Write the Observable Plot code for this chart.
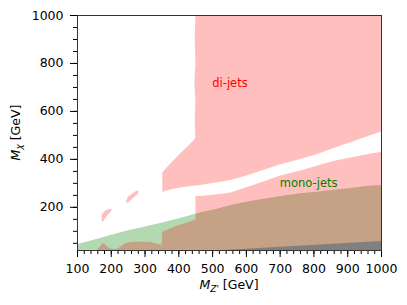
<!DOCTYPE html>
<html><head><meta charset="utf-8">
<script src="https://cdn.jsdelivr.net/npm/d3@7"></script>
<script src="https://cdn.jsdelivr.net/npm/@observablehq/plot@0.6"></script>
<style>html,body{margin:0;padding:0;background:#fff;} svg{display:block}</style>
</head><body><div id="chart"></div>
<script>
// ---- data (M_Z' [GeV], M_chi [GeV]) ----
const xTicks = [100, 200, 300, 400, 500, 600, 700, 800, 900, 1000];
const yTicks = [200, 400, 600, 800, 1000];
const xMinor = d3.range(100, 1001, 20);
const yMinor = d3.range(50, 1001, 50);

// mono-jets excluded region
const monoJets = [[100,20],[100,47],[150,66],[200,86],[250,104],[300,120],[350,137],[400,155],[449,173],
  [464,179],[500,190],[563,213],[610,226],[661,238],[710,249],[760,259],[810,266],[858,273],[910,281],[957,290],[1000,293],[1000,20]];

// di-jets excluded region: upper part
const diJetsUpper = [[449,1000],[1000,1000],[1000,516],[960,497],[910,472],[860,448],[810,422],[760,402],[700,380],
  [650,356],[600,333],[553,314],[500,302],[452,291],[440,290],[420,286],[400,282],[380,276],[360,268],[351,264],
  [351,345],[365,368],[380,390],[405,427],[430,460],[445,482],[449,492],[447,560],[449,640],[446,720],[449,800],[447,900]];

// di-jets excluded region: lower part
const diJetsLower = [[156,20],[165,35],[172,48],[177,51],[183,44],[190,34],[198,28],[207,26],[218,27],[228,38],[238,48],
  [248,53],[270,56],[300,57],[315,56],[330,50],[349,44],[351,98],[370,110],[393,123],[420,135],[447,148],[449,148],
  [449,246],[500,252],[553,262],[600,284],[650,308],[700,333],[760,354],[800,370],[860,394],[900,406],[960,422],[1000,432],[1000,20]];

// small di-jets islands
const island1 = [[171,145],[172,170],[180,185],[192,193],[201,194],[200,185],[190,170],[180,150],[175,140]];
const island2 = [[243,225],[250,245],[265,260],[275,270],[281,268],[278,255],[265,240],[252,222],[245,219]];

// grey region
const greyRegion = [[505,20],[1000,60],[1000,20]];

const labels = ["di-jets", "mono-jets"];
const labelX = [499, 699];
const labelY = [719, 302];
const labelColor = ["red", "green"];
const labelRows = labels.map((t, i) => ({t, x: labelX[i], y: labelY[i], c: labelColor[i]}));

const poly = (data, o) => Plot.line(data, {x: d => d[0], y: d => d[1], stroke: "none", curve: "linear", ...o});

const svg = Plot.plot({
  width: 407, height: 305,
  marginLeft: 77, marginRight: 26, marginTop: 15, marginBottom: 55,
  style: {fontFamily: "DejaVu Sans", fontSize: "12.5px", background: "#fff", color: "#000"},
  x: {domain: [100, 1000], label: null},
  y: {domain: [20, 1000], label: null},
  marks: [
    poly(monoJets, {fill: "green", fillOpacity: 0.3}),
    poly(diJetsUpper, {fill: "red", fillOpacity: 0.25}),
    poly(diJetsLower, {fill: "red", fillOpacity: 0.25}),
    poly(island1, {fill: "red", fillOpacity: 0.25}),
    poly(island2, {fill: "red", fillOpacity: 0.25}),
    poly(greyRegion, {fill: "#808080"}),
    Plot.text(labelRows, {x: "x", y: "y", text: "t", fill: "c", textAnchor: "start", fontSize: 11.5}),
    Plot.axisX(xMinor, {tickSize: 4, tickFormat: () => "", label: null}),
    Plot.axisY(yMinor, {tickSize: 4, tickFormat: () => "", label: null}),
    Plot.axisX(xTicks, {tickSize: 7, tickPadding: 7, label: null, fontSize: 12.5, tickFormat: d => String(d)}),
    Plot.axisY(yTicks, {tickSize: 7, tickPadding: 7, label: null, fontSize: 12.5, tickFormat: d => String(d)}),
    Plot.frame({stroke: "#333"})
  ]
});

const s = d3.select(svg);
const xl = s.append("text").attr("x", 229).attr("y", 289).attr("text-anchor", "middle")
  .attr("font-family", "DejaVu Sans").attr("font-size", 12.5).attr("fill", "#000");
xl.append("tspan").attr("font-style", "italic").text("M");
xl.append("tspan").attr("font-style", "italic").attr("font-size", 9).attr("dy", 2.5).text("Z'");
xl.append("tspan").attr("dy", -2.5).text(" [GeV]");

const yl = s.append("text").attr("transform", "translate(19.5,132.5) rotate(-90)").attr("text-anchor", "middle")
  .attr("font-family", "DejaVu Sans").attr("font-size", 12.5).attr("fill", "#000");
yl.append("tspan").attr("font-style", "italic").text("M");
yl.append("tspan").attr("font-style", "italic").attr("font-size", 9).attr("dy", 2.5).text("χ");
yl.append("tspan").attr("dy", -2.5).text(" [GeV]");

document.getElementById("chart").appendChild(svg);
</script>
</body></html>
